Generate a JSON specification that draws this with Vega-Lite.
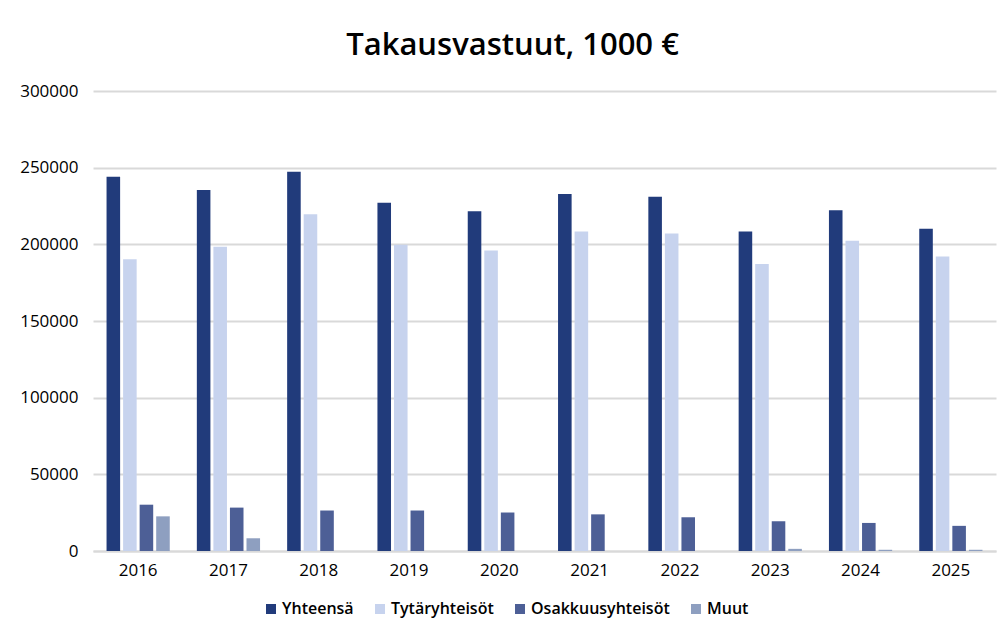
{
  "$schema": "https://vega.github.io/schema/vega-lite/v6.json",
  "autosize": {"type": "none"},
  "width": 903,
  "height": 460,
  "padding": {"left": 93, "top": 91, "right": 8, "bottom": 81},
  "background": "white",
  "title": {
    "text": "Takausvastuut, 1000 €",
    "font": "Open Sans",
    "fontSize": 31,
    "fontWeight": 600,
    "color": "#000000",
    "anchor": "middle",
    "dx": -32,
    "offset": 20
  },
  "data": {
    "values": [
      {"vuosi": "2016", "sarja": "Yhteensä", "arvo": 244000},
      {"vuosi": "2016", "sarja": "Tytäryhteisöt", "arvo": 190300},
      {"vuosi": "2016", "sarja": "Osakkuusyhteisöt", "arvo": 30200},
      {"vuosi": "2016", "sarja": "Muut", "arvo": 22600},
      {"vuosi": "2017", "sarja": "Yhteensä", "arvo": 235400},
      {"vuosi": "2017", "sarja": "Tytäryhteisöt", "arvo": 198500},
      {"vuosi": "2017", "sarja": "Osakkuusyhteisöt", "arvo": 28300},
      {"vuosi": "2017", "sarja": "Muut", "arvo": 8300},
      {"vuosi": "2018", "sarja": "Yhteensä", "arvo": 247300},
      {"vuosi": "2018", "sarja": "Tytäryhteisöt", "arvo": 219700},
      {"vuosi": "2018", "sarja": "Osakkuusyhteisöt", "arvo": 26400},
      {"vuosi": "2018", "sarja": "Muut", "arvo": 0},
      {"vuosi": "2019", "sarja": "Yhteensä", "arvo": 227200},
      {"vuosi": "2019", "sarja": "Tytäryhteisöt", "arvo": 199800},
      {"vuosi": "2019", "sarja": "Osakkuusyhteisöt", "arvo": 26400},
      {"vuosi": "2019", "sarja": "Muut", "arvo": 0},
      {"vuosi": "2020", "sarja": "Yhteensä", "arvo": 221600},
      {"vuosi": "2020", "sarja": "Tytäryhteisöt", "arvo": 196000},
      {"vuosi": "2020", "sarja": "Osakkuusyhteisöt", "arvo": 25100},
      {"vuosi": "2020", "sarja": "Muut", "arvo": 0},
      {"vuosi": "2021", "sarja": "Yhteensä", "arvo": 232900},
      {"vuosi": "2021", "sarja": "Tytäryhteisöt", "arvo": 208400},
      {"vuosi": "2021", "sarja": "Osakkuusyhteisöt", "arvo": 23900},
      {"vuosi": "2021", "sarja": "Muut", "arvo": 0},
      {"vuosi": "2022", "sarja": "Yhteensä", "arvo": 231000},
      {"vuosi": "2022", "sarja": "Tytäryhteisöt", "arvo": 207100},
      {"vuosi": "2022", "sarja": "Osakkuusyhteisöt", "arvo": 22000},
      {"vuosi": "2022", "sarja": "Muut", "arvo": 0},
      {"vuosi": "2023", "sarja": "Yhteensä", "arvo": 208400},
      {"vuosi": "2023", "sarja": "Tytäryhteisöt", "arvo": 187200},
      {"vuosi": "2023", "sarja": "Osakkuusyhteisöt", "arvo": 19400},
      {"vuosi": "2023", "sarja": "Muut", "arvo": 1400},
      {"vuosi": "2024", "sarja": "Yhteensä", "arvo": 222200},
      {"vuosi": "2024", "sarja": "Tytäryhteisöt", "arvo": 202400},
      {"vuosi": "2024", "sarja": "Osakkuusyhteisöt", "arvo": 18300},
      {"vuosi": "2024", "sarja": "Muut", "arvo": 800},
      {"vuosi": "2025", "sarja": "Yhteensä", "arvo": 210200},
      {"vuosi": "2025", "sarja": "Tytäryhteisöt", "arvo": 192000},
      {"vuosi": "2025", "sarja": "Osakkuusyhteisöt", "arvo": 16400},
      {"vuosi": "2025", "sarja": "Muut", "arvo": 800}
    ]
  },
  "mark": {"type": "bar"},
  "encoding": {
    "x": {
      "field": "vuosi",
      "type": "nominal",
      "scale": {"paddingInner": 0.3, "paddingOuter": 0.15},
      "axis": {
        "title": null,
        "labelAngle": 0,
        "labelFont": "Open Sans",
        "labelFontSize": 17,
        "labelColor": "#000000",
        "labelPadding": 11,
        "ticks": false,
        "domainColor": "#D9D9D9",
        "domainWidth": 2
      }
    },
    "xOffset": {
      "field": "sarja",
      "type": "nominal",
      "sort": ["Yhteensä", "Tytäryhteisöt", "Osakkuusyhteisöt", "Muut"],
      "scale": {"paddingInner": 0.18, "paddingOuter": 0}
    },
    "y": {
      "field": "arvo",
      "type": "quantitative",
      "scale": {"domain": [0, 300000], "nice": false},
      "axis": {
        "title": null,
        "values": [0, 50000, 100000, 150000, 200000, 250000, 300000],
        "format": "d",
        "labelFont": "Open Sans",
        "labelFontSize": 17,
        "labelColor": "#000000",
        "labelPadding": 15,
        "ticks": false,
        "domain": false,
        "gridColor": "#D9D9D9",
        "gridWidth": 2
      }
    },
    "color": {
      "field": "sarja",
      "type": "nominal",
      "sort": ["Yhteensä", "Tytäryhteisöt", "Osakkuusyhteisöt", "Muut"],
      "scale": {
        "domain": ["Yhteensä", "Tytäryhteisöt", "Osakkuusyhteisöt", "Muut"],
        "range": ["#213B7B", "#C7D3EE", "#4D5F96", "#8E9FC0"]
      },
      "legend": {
        "title": null,
        "orient": "none",
        "direction": "horizontal",
        "legendX": 170,
        "legendY": 510,
        "symbolType": "square",
        "symbolSize": 100,
        "symbolStrokeWidth": 0,
        "labelFont": "Open Sans",
        "labelFontSize": 16,
        "labelFontWeight": 600,
        "labelColor": "#000000",
        "labelOffset": 3,
        "columnPadding": 18
      }
    }
  },
  "config": {
    "view": {"stroke": null}
  }
}
